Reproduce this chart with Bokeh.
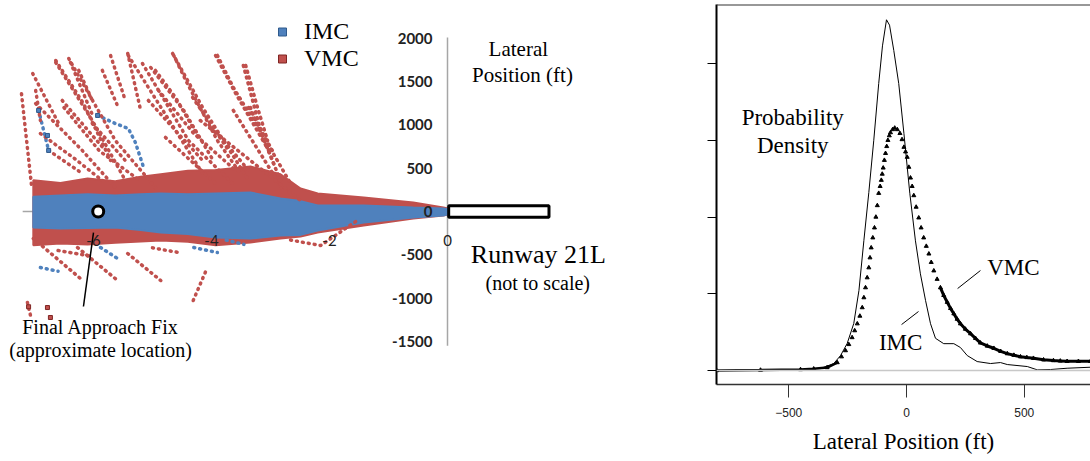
from bokeh.plotting import figure
from bokeh.models import FixedTicker, Span, Legend, LegendItem
from bokeh.layouts import row
from bokeh.core.properties import value
from bokeh.embed import file_html
from bokeh.resources import INLINE

BLUE = "#4F81BD"
RED = "#C0504D"
SERIF = "Liberation Serif"

# ---------------- Left panel data (distance in nmi, lateral position in ft) -------------
x_ticks = [-6, -4, -2, 0]
y_ticks = [-1500, -1000, -500, 0, 500, 1000, 1500, 2000]
x_axis_extent = [-7.2, 0]
y_axis_extent = [-1550, 2010]

band_dist = [-7.02, -6.56, -6.1, -5.63, -5.2, -4.86, -4.4, -3.93, -3.34, -2.83, -2.49,
             -2.20, -1.42, -0.58, -0.07, 0.05]
vmc_band_hi = [360, 330, 380, 350, 400, 430, 470, 480, 520, 430, 266,
               208, 162, 104, 46, 30]
vmc_band_lo = [-390, -370, -380, -360, -345, -335, -350, -390, -358, -312, -289,
               -243, -162, -81, -46, -30]
imc_band_hi = [170, 185, 200, 185, 200, 208, 200, 208, 219, 150, 120,
               69, 69, 46, 35, 23]
imc_band_lo = [-185, -196, -190, -185, -215, -243, -260, -300, -312, -277, -270,
               -219, -127, -69, -46, -23]

vmc_track_dist = [
    [-7.03, -6.59], [-6.64, -6.02, -5.46], [-6.42, -5.63, -4.95], [-5.71, -5.46],
    [-5.41, -4.61, -4.15], [-5.17, -4.39, -3.64], [-4.66, -4.15, -3.37],
    [-3.93, -3.59, -3.03], [-3.46, -3.20, -2.92], [-5.07, -4.15], [-6.98, -6.19, -5.63],
    [-3.63, -2.78], [-3.34, -2.83], [-4.19, -2.49], [-6.64, -6.17, -5.71], [-6.39, -6.0],
    [-5.42, -5.20], [-4.64, -4.41, -3.90, -3.51], [-3.90, -3.63, -3.05, -2.66],
    [-3.42, -3.22, -3.05], [-5.03, -4.47, -3.97], [-7.22, -7.05], [-6.9, -6.3, -5.8],
    [-6.5, -5.9, -5.2], [-4.9, -4.3, -3.6],
    [-6.98, -6.9], [-6.53, -5.80], [-6.25, -6.02], [-5.85, -5.58],
    [-4.95, -4.61, -4.22], [-4.32, -3.71], [-3.37, -2.97], [-3.98, -3.37],
    [-4.78, -3.93], [-6.76, -6.19], [-6.02, -5.46],
    [-7.02, -6.22], [-6.27, -5.59], [-5.42, -4.86], [-4.31, -4.07], [-2.66, -2.15, -1.53],
    [-7.12, -7.05], [-6.6, -6.0], [-5.0, -4.5],
]
vmc_track_ft = [
    [1594, 1016], [1721, 1051, 358], [1767, 820, 277], [1800, 1282],
    [1800, 936, 439], [1709, 820, 323], [1825, 1201, 358],
    [1800, 1363, 705], [1686, 1016, 508], [1282, 589], [1247, 705, 277],
    [1167, 243], [1201, 358], [1051, 127], [1744, 1247, 589], [1721, 1086],
    [1825, 1167], [1802, 1478, 820, 439], [1802, 1432, 785, 323],
    [1686, 1201, 820], [1663, 1167, 589], [1360, 300], [900, 600, 330],
    [1200, 700, 350], [1400, 900, 480],
    [1398, 1051], [1282, 705], [1629, 1282], [1629, 1201],
    [1629, 1317, 855], [1317, 705], [1201, 705], [970, 474],
    [855, 323], [705, 439], [1016, 589],
    [-312, -774], [-416, -797], [-485, -797], [-1028, -647], [-330, -393, -104],
    [-1050, -1250], [-450, -520], [-420, -480],
]
imc_track_dist = [[-6.93, -6.76], [-5.93, -5.63, -5.41, -5.29, -5.15], [-6.9, -6.6],
                  [-5.88, -5.54], [-4.3, -3.9], [-3.75, -3.45]]
imc_track_ft = [[1167, 705], [1109, 1016, 959, 797, 508], [-647, -690],
                [-416, -566], [-416, -474], [-330, -380]]

imc_lone_dist = [-6.93, -6.78, -6.76, -5.93]
imc_lone_ft = [1167, 878, 705, 1109]
vmc_lone_dist = [-6.78, -6.73, -7.1]
vmc_lone_ft = [-1109, -1224, -1100]

faf_dist = [-5.92]
faf_ft = [0]

# ---------------- Right panel data (lateral position ft, probability density, rel. units) --
imc_x = [-806, -620, -450, -365, -309, -280, -252, -224, -202, -181, -160, -139,
         -118, -102, -85, -72, -54, -33, -11, 14, 38, 59, 81, 102,
         123, 158, 201, 229, 258, 300, 357, 399, 428, 513, 555, 611, 682, 781]
imc_y = [0.0, 0.006, 0.013, 0.026, 0.091, 0.195, 0.352, 0.612, 1.042, 1.694, 2.32, 3.0,
         3.74, 4.23, 4.57, 4.50, 4.17, 3.74, 3.09, 2.31, 1.69, 1.26, 0.91, 0.61,
         0.42, 0.35, 0.35, 0.30, 0.195, 0.117, 0.091, 0.104, 0.078, 0.052, 0.009, 0.013, 0.03, 0.043]
vmc_x = [-806, -620, -450, -394, -337, -294, -276, -259, -245, -231, -220, -209,
         -198, -188, -181, -174, -167, -160, -155, -150, -143, -136, -130, -124,
         -118, -112, -107, -103, -99, -94, -89, -84, -79, -73, -68, -59,
         -50, -39, -28, -19, -11, -4, 3, 10, 17, 24, 31, 41,
         52, 62, 73, 84, 95, 105, 116, 130, 144, 158, 173, 187,
         201, 215, 229, 250, 272, 293, 314, 343, 371, 400, 428, 456,
         484, 511, 539, 582, 624, 653, 682, 730, 781]
vmc_y = [0.0, 0.006, 0.013, 0.022, 0.039, 0.104, 0.18, 0.26, 0.34, 0.43, 0.52, 0.61,
         0.71, 0.82, 0.95, 1.08, 1.21, 1.34, 1.47, 1.60, 1.73, 1.86, 2.00, 2.15,
         2.31, 2.40, 2.48, 2.56, 2.64, 2.74, 2.83, 2.92, 3.00, 3.06, 3.10, 3.14,
         3.16, 3.14, 3.09, 3.01, 2.91, 2.85, 2.78, 2.65, 2.51, 2.40, 2.28, 2.13,
         1.99, 1.86, 1.73, 1.62, 1.52, 1.41, 1.30, 1.19, 1.08, 0.98, 0.89, 0.81,
         0.74, 0.67, 0.61, 0.54, 0.48, 0.42, 0.36, 0.32, 0.29, 0.25, 0.22, 0.20,
         0.18, 0.17, 0.16, 0.14, 0.13, 0.125, 0.12, 0.12, 0.12]
dens_ticks = [0, 1, 2, 3, 4]
lat_ticks = [-500, 0, 500]

# ======================= LEFT PANEL =======================
# frame spans page y 4..384 (aligned with the right panel's frame by the row layout)
p1 = figure(width=660, height=461, x_range=(-7.576, 3.610), y_range=(-1997.7, 2390.3),
            output_backend="svg", toolbar_location=None,
            min_border_left=0, min_border_right=0, min_border_top=4, min_border_bottom=77,
            x_axis_location=None, y_axis_location=None)
p1.outline_line_color = None
p1.xgrid.visible = False
p1.ygrid.visible = False

# axis lines (Excel-style axes crossing at the origin)
p1.segment(x0=[0], y0=[y_axis_extent[0]], x1=[0], y1=[y_axis_extent[1]],
           line_color="#a6a6a6", line_width=1.5)
p1.segment(x0=[x_axis_extent[0]], y0=[0], x1=[x_axis_extent[1]], y1=[0],
           line_color="#a6a6a6", line_width=1.5)

# dense bands (VMC behind IMC)
p1.patch(band_dist + band_dist[::-1], vmc_band_hi + vmc_band_lo[::-1],
         fill_color=RED, line_color=RED, line_width=2)
p1.patch(band_dist + band_dist[::-1], imc_band_hi + imc_band_lo[::-1],
         fill_color=BLUE, line_color=BLUE, line_width=2)

# sparse tracks drawn as dotted point sequences
p1.multi_line(imc_track_dist, imc_track_ft, line_color=BLUE, line_width=3.5,
              line_dash="1 5", line_cap="round")
p1.multi_line(vmc_track_dist, vmc_track_ft, line_color=RED, line_width=3.5,
              line_dash="1 5", line_cap="round")
imc_lone = p1.scatter(imc_lone_dist, imc_lone_ft, marker="square", size=4,
                      fill_color=BLUE, line_color="#2F5A8C", line_width=1)
vmc_lone = p1.scatter(vmc_lone_dist, vmc_lone_ft, marker="square", size=4,
                      fill_color=RED, line_color="#7F2523", line_width=1)

# tick labels
p1.text(x=[0] * len(y_ticks), y=y_ticks, text=[str(t) for t in y_ticks], x_offset=-15,
        text_font=value("Lato"), text_font_style="bold", text_font_size="15px",
        text_color="#222222", text_align="right", text_baseline="middle")
p1.text(x=x_ticks, y=[0] * len(x_ticks), text=[str(t) for t in x_ticks], y_offset=29,
        text_font=value("Lato"), text_font_size="15px",
        text_color="#222222", text_align="center", text_baseline="middle")

# runway (not to scale)
p1.quad(left=[0.02], right=[1.72], bottom=[-66], top=[66], fill_color="white",
        line_color="black", line_width=3)

# final approach fix
p1.scatter(faf_dist, faf_ft, marker="circle", size=11, fill_color="white",
           line_color="black", line_width=3)
p1.segment(x0=[-6.0], y0=[-243], x1=[-6.17], y1=[-1097], line_color="black", line_width=1.5)

def ltext(x, y, t, size):
    p1.text(x=[x], y=[y], text=[t], text_font=value(SERIF), text_font_size=size,
            text_align="center", text_baseline="middle", text_color="black")

ltext(1.20, 1882, "Lateral", "21px")
ltext(1.27, 1571, "Position (ft)", "21px")
ltext(1.54, -497, "Runway 21L", "26px")
ltext(1.53, -820, "(not to scale)", "20px")
ltext(-5.88, -1328, "Final Approach Fix", "20px")
ltext(-5.88, -1605, "(approximate location)", "20px")

legend = Legend(items=[LegendItem(label="IMC", renderers=[imc_lone]),
                       LegendItem(label="VMC", renderers=[vmc_lone])],
                location=(272, 312), orientation="vertical")
legend.border_line_color = None
legend.background_fill_alpha = 0
legend.padding = 0
legend.margin = 0
legend.spacing = 0
legend.glyph_width = 20
legend.glyph_height = 27
legend.label_standoff = 12
legend.label_height = 27
legend.label_text_font = SERIF
legend.label_text_font_size = "24px"
legend.label_text_color = "black"
p1.add_layout(legend, "center")

# ======================= RIGHT PANEL =======================
p2 = figure(width=430, height=461, x_range=(-806.8, 781.3), y_range=(-0.182, 4.769),
            output_backend="svg", toolbar_location=None,
            min_border_left=56, min_border_right=0, min_border_top=4, min_border_bottom=77)
p2.outline_line_color = None
p2.xgrid.visible = False
p2.ygrid.visible = False

p2.xaxis.ticker = FixedTicker(ticks=lat_ticks)
p2.xaxis.major_tick_out = 13
p2.xaxis.major_tick_in = 0
p2.xaxis.minor_tick_line_color = None
p2.xaxis.axis_line_color = "#333333"
p2.xaxis.axis_line_width = 1.5
p2.xaxis.major_tick_line_color = "#333333"
p2.xaxis.major_label_text_font = "Liberation Sans"
p2.xaxis.major_label_text_font_size = "12px"
p2.xaxis.major_label_text_color = "#222222"
p2.xaxis.major_label_standoff = 10
p2.xaxis.axis_label = "Lateral Position (ft)"
p2.xaxis.axis_label_text_font = SERIF
p2.xaxis.axis_label_text_font_style = "normal"
p2.xaxis.axis_label_text_font_size = "23px"
p2.xaxis.axis_label_text_color = "black"
p2.xaxis.axis_label_standoff = 9

p2.yaxis.ticker = FixedTicker(ticks=dens_ticks)
p2.yaxis.major_tick_out = 9
p2.yaxis.major_tick_in = 0
p2.yaxis.minor_tick_line_color = None
p2.yaxis.axis_line_color = "black"
p2.yaxis.axis_line_width = 2
p2.yaxis.major_tick_line_color = "black"
p2.yaxis.major_label_overrides = {t: "" for t in dens_ticks}

p2.add_layout(Span(location=4.769, dimension="width", line_color="#333333", line_width=2))
p2.add_layout(Span(location=0, dimension="width", line_color="#c8c8c8", line_width=1.5))

p2.line(imc_x, imc_y, line_color="black", line_width=1)
left_tail = [(x, y) for x, y in zip(vmc_x, vmc_y) if x <= -294]
right_tail = [(x, y) for x, y in zip(vmc_x, vmc_y) if x >= 144]
p2.line([a for a, b in left_tail], [b for a, b in left_tail], line_color="black", line_width=2.5)
p2.line([a for a, b in right_tail], [b for a, b in right_tail], line_color="black", line_width=3)
p2.scatter(vmc_x, vmc_y, marker="triangle", size=4, fill_color="black", line_color="black")

def rtext(x, y, t):
    p2.text(x=[x], y=[y], text=[t], text_font=value(SERIF), text_font_size="23px",
            text_align="center", text_baseline="middle", text_color="black")

rtext(-483, 3.297, "Probability")
rtext(-483, 2.932, "Density")
rtext(454, 1.342, "VMC")
rtext(-25, 0.365, "IMC")
p2.segment(x0=[314, 51], y0=[1.303, 0.769], x1=[217, -21], y1=[1.068, 0.599],
           line_color="black", line_width=1)

layout = row(p1, p2)
open("out.html", "w").write(file_html(layout, INLINE))
